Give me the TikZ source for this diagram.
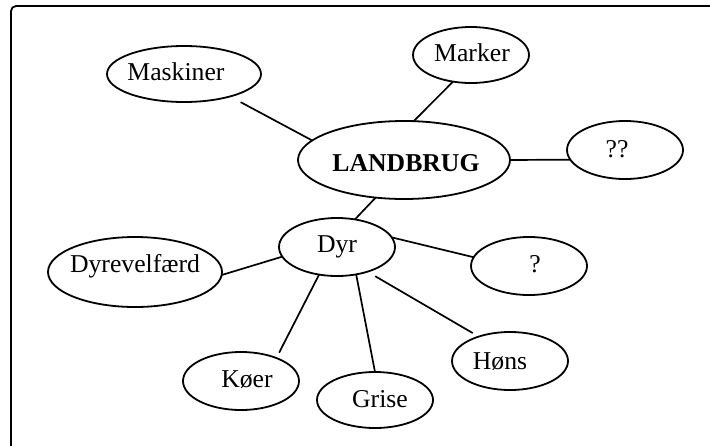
\documentclass[tikz,border=0pt]{standalone}
\usepackage{fontspec}
\setmainfont{Liberation Serif}
\usetikzlibrary{shapes.geometric}
\newcommand\tx[2]{\makebox[0pt]{\hspace*{#1}#2}}
\begin{document}
\begin{tikzpicture}[x=1pt,y=-1pt,
  blob/.style={ellipse, draw, line width=1.8pt, inner sep=0pt, outer sep=0pt,
    text height=16pt, text depth=4pt, font=\fontsize{25.7}{30}\selectfont},
  link/.style={line width=1.7pt}]
\useasboundingbox (0,0) rectangle (710,445);
\begin{scope}
\clip (0,0) rectangle (710,445);
\draw[line width=1.8pt, rounded corners=5pt] (11,6) rectangle (760,480);
\end{scope}
\node[blob, minimum width=154pt, minimum height=56pt] (mask) at (184,74) {\tx{-16pt}{Maskiner}};
\node[blob, minimum width=116pt, minimum height=56pt] (mark) at (471,55) {\tx{2pt}{Marker}};
\node[blob, minimum width=212pt, minimum height=78pt, text height=24pt, text depth=2pt] (land) at (404,160) {\tx{4pt}{\bfseries LANDBRUG}};
\node[blob, minimum width=116pt, minimum height=58pt, text height=18pt] (qq) at (625,150) {\tx{-16pt}{??}};
\node[blob, minimum width=116pt, minimum height=58pt, text height=14pt] (dyr) at (337,247) {\tx{0pt}{Dyr}};
\node[blob, minimum width=116pt, minimum height=58pt] (q) at (529,266) {\tx{12pt}{?}};
\node[blob, minimum width=174pt, minimum height=70pt, text height=11pt, text depth=11pt] (velf) at (135,272) {\tx{0pt}{Dyrevelfærd}};
\node[blob, minimum width=116pt, minimum height=58pt] (koer) at (241,381) {\tx{12pt}{Køer}};
\node[blob, minimum width=116pt, minimum height=56pt, text height=18pt] (gris) at (375,400) {\tx{10pt}{Grise}};
\node[blob, minimum width=116pt, minimum height=58pt, text height=20pt] (hons) at (510,361) {\tx{-20pt}{Høns}};
\draw[link, shorten <=12pt] (mask.-26) -- (land.168);
\draw[link] (mark.-124) -- (land.76);
\draw[link] (land.east) -- (qq.-170);
\draw[link] (land.-127) -- (dyr.57);
\draw[link] (dyr.-170) -- (velf.-2);
\draw[link, shorten >=6pt] (dyr.-123) -- (koer.33);
\draw[link] (dyr.-55) -- (gris.north);
\draw[link, shorten <=9pt, shorten >=7pt] (dyr.-39) -- (hons.142);
\draw[link] (dyr.10) -- (q.171);
\end{tikzpicture}
\end{document}
